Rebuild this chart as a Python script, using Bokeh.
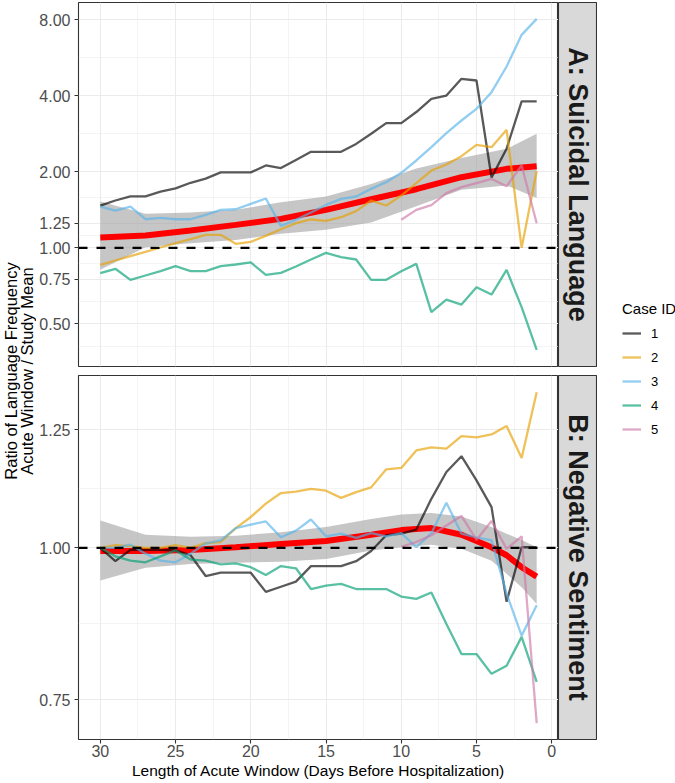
import math
from bokeh.plotting import figure
from bokeh.models import (Range1d, FixedTicker, PrintfTickFormatter, Span,
                          Legend, LegendItem)
from bokeh.layouts import row, column
from bokeh.embed import file_html
from bokeh.resources import INLINE
from bokeh.core.properties import value

FONT = "Liberation Sans"

# ---------------- data ----------------
days = [30, 29, 28, 27, 26, 25, 24, 23, 22, 21, 20, 19, 18, 17, 16,
        15, 14, 13, 12, 11, 10, 9, 8, 7, 6, 5, 4, 3, 2, 1]
days_case5 = [10, 9, 8, 7, 6, 5, 4, 3, 2, 1]

case_ids = ["1", "2", "3", "4", "5"]
case_colors = ["#000000", "#E69F00", "#56B4E9", "#009E73", "#CC79A7"]

# Panel A: Suicidal Language (ratio)
suicidal_case1 = [1.47, 1.54, 1.60, 1.60, 1.67, 1.72, 1.81, 1.88, 1.99, 1.99, 1.99, 2.12, 2.07, 2.23, 2.40,
                  2.40, 2.40, 2.58, 2.83, 3.12, 3.12, 3.45, 3.89, 4.01, 4.67, 4.60, 1.90, 2.47, 3.80, 3.80]
suicidal_case2 = [0.856, 0.891, 0.927, 0.964, 1.003, 1.043, 1.082, 1.126, 1.126, 1.037, 1.056, 1.115, 1.185, 1.252, 1.295,
                  1.279, 1.322, 1.397, 1.539, 1.471, 1.611, 1.803, 2.024, 2.138, 2.307, 2.558, 2.504, 2.933, 1.000, 2.011]
suicidal_case3 = [1.457, 1.405, 1.457, 1.298, 1.314, 1.298, 1.298, 1.351, 1.414, 1.422, 1.493, 1.568, 1.222, 1.291, 1.380,
                  1.479, 1.563, 1.597, 1.712, 1.820, 1.982, 2.218, 2.504, 2.845, 3.194, 3.553, 4.136, 5.227, 6.975, 8.07]
suicidal_case4 = [0.794, 0.826, 0.747, 0.777, 0.808, 0.846, 0.808, 0.808, 0.846, 0.859, 0.875, 0.781, 0.796, 0.843, 0.899,
                  0.955, 0.918, 0.899, 0.747, 0.747, 0.808, 0.864, 0.556, 0.624, 0.596, 0.698, 0.653, 0.818, 0.582, 0.394]
suicidal_case5 = [1.291, 1.414, 1.475, 1.646, 1.739, 1.803, 1.875, 1.754, 2.119, 1.252]

fit_days_a = [30, 27, 24, 21, 18, 15, 12, 9, 6, 3, 1]
suicidal_fit = [1.099, 1.119, 1.171, 1.233, 1.302, 1.414, 1.558, 1.707, 1.904, 2.055, 2.105]
suicidal_lo = [0.818, 1.006, 1.043, 1.075, 1.136, 1.178, 1.260, 1.460, 1.700, 1.765, 1.577]
suicidal_hi = [1.525, 1.363, 1.380, 1.414, 1.516, 1.597, 1.790, 2.060, 2.270, 2.466, 2.828]

# Panel B: Negative Sentiment (ratio)
negative_case1 = [1.000, 0.975, 0.996, 0.996, 0.996, 0.995, 0.986, 0.948, 0.954, 0.954, 0.954, 0.920, 0.929, 0.938, 0.966,
                  0.966, 0.966, 0.975, 0.994, 1.024, 1.027, 1.035, 1.097, 1.154, 1.189, 1.136, 1.080, 0.903, 1.001, 1.001]
negative_case2 = [1.000, 1.005, 1.003, 1.000, 1.000, 1.005, 1.000, 1.009, 1.011, 1.038, 1.060, 1.087, 1.109, 1.112, 1.118,
                  1.114, 1.099, 1.111, 1.121, 1.160, 1.163, 1.202, 1.209, 1.206, 1.235, 1.232, 1.239, 1.259, 1.185, 1.342]
negative_case3 = [1.000, 1.000, 1.006, 0.989, 0.976, 0.973, 0.989, 1.008, 1.014, 1.038, 1.045, 1.051, 1.020, 1.033, 1.055,
                  1.022, 1.027, 1.019, 1.028, 1.022, 1.028, 1.001, 1.028, 1.089, 1.027, 1.020, 1.014, 0.917, 0.847, 0.897]
negative_case4 = [1.000, 0.984, 0.976, 0.973, 0.984, 0.995, 0.978, 0.976, 0.969, 0.971, 0.964, 0.950, 0.966, 0.962, 0.925,
                  0.931, 0.934, 0.925, 0.925, 0.925, 0.912, 0.908, 0.919, 0.866, 0.818, 0.818, 0.788, 0.800, 0.845, 0.776]
negative_case5 = [1.002, 1.011, 1.024, 1.043, 1.062, 1.015, 1.052, 0.998, 1.022, 0.718]

fit_days_b = [30, 27, 24, 21, 18, 15, 12, 10, 8, 6, 4, 3, 2, 1]
negative_fit = [0.994, 0.994, 0.996, 1.001, 1.007, 1.013, 1.025, 1.034, 1.038, 1.025, 1.001, 0.986, 0.964, 0.947]
negative_lo = [0.940, 0.963, 0.970, 0.972, 0.974, 0.979, 0.995, 1.001, 1.006, 0.998, 0.976, 0.952, 0.928, 0.899]
negative_hi = [1.053, 1.025, 1.021, 1.023, 1.030, 1.040, 1.056, 1.065, 1.068, 1.061, 1.040, 1.027, 1.015, 1.001]

# axis ticks / labels
x_ticks = [30, 25, 20, 15, 10, 5, 0]
x_minor = [27.5, 22.5, 17.5, 12.5, 7.5, 2.5]
y_ticks_a = [0.5, 0.75, 1.0, 1.25, 2.0, 4.0, 8.0]
y_minor_a = [0.408, 0.612, 0.866, 1.118, 1.581, 2.828, 5.657]
y_ticks_b = [0.75, 1.0, 1.25]
y_minor_b = [0.866, 1.118]

strip_a = "A: Suicidal Language"
strip_b = "B: Negative Sentiment"
y_title = ["Ratio of Language Frequency", "Acute Window / Study Mean"]
x_title = "Length of Acute Window (Days Before Hospitalization)"
legend_title = "Case ID"

GRID = "#EBEBEB"
DARK = "#333333"
NAN = float("nan")


def make_panel(height, top, bottom, yrange, yt, ymt, cases, fx, fit, lo, hi, show_x):
    p = figure(width=522, height=height,
               x_range=Range1d(31.45, -0.45), y_range=Range1d(*yrange),
               y_axis_type="log", x_axis_location="below" if show_x else None,
               output_backend="svg", toolbar_location=None,
               min_border_left=42, min_border_right=0,
               min_border_top=top, min_border_bottom=bottom)
    p.background_fill_color = "white"
    p.border_fill_color = "white"
    p.outline_line_color = DARK
    p.outline_line_width = 1.1

    p.xgrid.ticker = FixedTicker(ticks=x_ticks, minor_ticks=x_minor)
    p.ygrid.ticker = FixedTicker(ticks=yt, minor_ticks=ymt)
    for g in (p.xgrid, p.ygrid):
        g.grid_line_color = GRID
        g.grid_line_width = 1.1
        g.minor_grid_line_color = GRID
        g.minor_grid_line_width = 0.55

    ax = p.yaxis[0]
    ax.ticker = FixedTicker(ticks=yt)
    ax.formatter = PrintfTickFormatter(format="%.2f")
    ax.axis_line_color = None
    ax.major_tick_line_color = DARK
    ax.major_tick_line_width = 1.1
    ax.major_tick_out = 4
    ax.major_tick_in = 0
    ax.minor_tick_out = 0
    ax.minor_tick_in = 0
    ax.major_label_standoff = 4
    ax.major_label_text_font = FONT
    ax.major_label_text_font_size = "16px"
    ax.major_label_text_color = "#4D4D4D"

    if show_x:
        xa = p.xaxis[0]
        xa.ticker = FixedTicker(ticks=x_ticks)
        xa.axis_line_color = None
        xa.major_tick_line_color = DARK
        xa.major_tick_line_width = 1.1
        xa.major_tick_out = 4
        xa.major_tick_in = 0
        xa.minor_tick_out = 0
        xa.minor_tick_in = 0
        xa.major_label_standoff = 1
        xa.major_label_text_font = FONT
        xa.major_label_text_font_size = "16px"
        xa.major_label_text_color = "#4D4D4D"
        xa.axis_label = x_title
        xa.axis_label_standoff = 2
        xa.axis_label_text_font = FONT
        xa.axis_label_text_font_size = "15.5px"
        xa.axis_label_text_font_style = "normal"
        xa.axis_label_text_color = "black"

    # smoother ribbon and line
    p.varea(x=fx, y1=lo, y2=hi, fill_color="#A0A0A0", fill_alpha=0.6)
    p.line(fx, fit, line_color="#FF0000", line_width=6)
    # case lines
    for color, xs, ys in cases:
        p.line(xs, ys, line_color=color, line_alpha=0.65, line_width=2.3)
    p.add_layout(Span(location=1.0, dimension="width", line_color="black",
                      line_width=2.2, line_dash="9 9"))
    return p


def make_strip(height, top, bottom, label):
    s = figure(width=39, height=height, x_range=Range1d(0, 1), y_range=Range1d(0, 1),
               x_axis_location=None, y_axis_location=None,
               output_backend="svg", toolbar_location=None,
               min_border_left=0, min_border_right=0,
               min_border_top=top, min_border_bottom=bottom)
    s.grid.visible = False
    s.background_fill_color = "#D9D9D9"
    s.border_fill_color = "white"
    s.outline_line_color = DARK
    s.outline_line_width = 1.1
    s.text(x=[0.5], y=[0.5], text=[label], angle=-math.pi / 2,
           text_align="center", text_baseline="middle",
           text_font=value(FONT), text_font_size="27px",
           text_font_style="bold", text_color="#1A1A1A")
    return s


cases_a = [(case_colors[0], days, suicidal_case1), (case_colors[1], days, suicidal_case2),
           (case_colors[2], days, suicidal_case3), (case_colors[3], days, suicidal_case4),
           (case_colors[4], days_case5, suicidal_case5)]
cases_b = [(case_colors[0], days, negative_case1), (case_colors[1], days, negative_case2),
           (case_colors[2], days, negative_case3), (case_colors[3], days, negative_case4),
           (case_colors[4], days_case5, negative_case5)]

pA = make_panel(370, 2, 4, (0.3388, 9.37), y_ticks_a, y_minor_a, cases_a,
                fit_days_a, suicidal_fit, suicidal_lo, suicidal_hi, False)
pB = make_panel(413, 5, 44, (0.696, 1.385), y_ticks_b, y_minor_b, cases_b,
                fit_days_b, negative_fit, negative_lo, negative_hi, True)
sA = make_strip(370, 2, 4, strip_a)
sB = make_strip(413, 5, 44, strip_b)

# y-axis title column
yl = figure(width=36, height=783, x_range=Range1d(0, 36), y_range=Range1d(0, 783),
            x_axis_location=None, y_axis_location=None,
            output_backend="svg", toolbar_location=None, min_border=0)
yl.grid.visible = False
yl.outline_line_color = None
yl.text(x=[10.5, 26.5], y=[412.5, 412.5], text=y_title, angle=math.pi / 2,
        text_align="center", text_baseline="middle",
        text_font=value(FONT), text_font_size="16.5px", text_color="black")

# legend column
lf = figure(width=78, height=783, x_range=Range1d(0, 1), y_range=Range1d(0, 1),
            x_axis_location=None, y_axis_location=None,
            output_backend="svg", toolbar_location=None, min_border=0)
lf.grid.visible = False
lf.outline_line_color = None
items = []
for cid, color in zip(case_ids, case_colors):
    r = lf.line(x=[NAN], y=[NAN], line_color=color, line_alpha=0.65, line_width=2.3)
    items.append(LegendItem(label=cid, renderers=[r]))
legend = Legend(items=items, location=(25, 344), title=legend_title,
                padding=0, margin=0, spacing=4,
                glyph_width=19, glyph_height=20, label_height=20,
                label_standoff=10, title_standoff=6,
                label_text_font=FONT, label_text_font_size="13px", label_text_color="black",
                title_text_font=FONT, title_text_font_size="15px",
                title_text_font_style="normal", title_text_color="black",
                background_fill_alpha=0, border_line_alpha=0)
lf.add_layout(legend)

layout = row(yl, column(row(pA, sA), row(pB, sB)), lf)

with open("out.html", "w") as f:
    f.write(file_html(layout, INLINE))
